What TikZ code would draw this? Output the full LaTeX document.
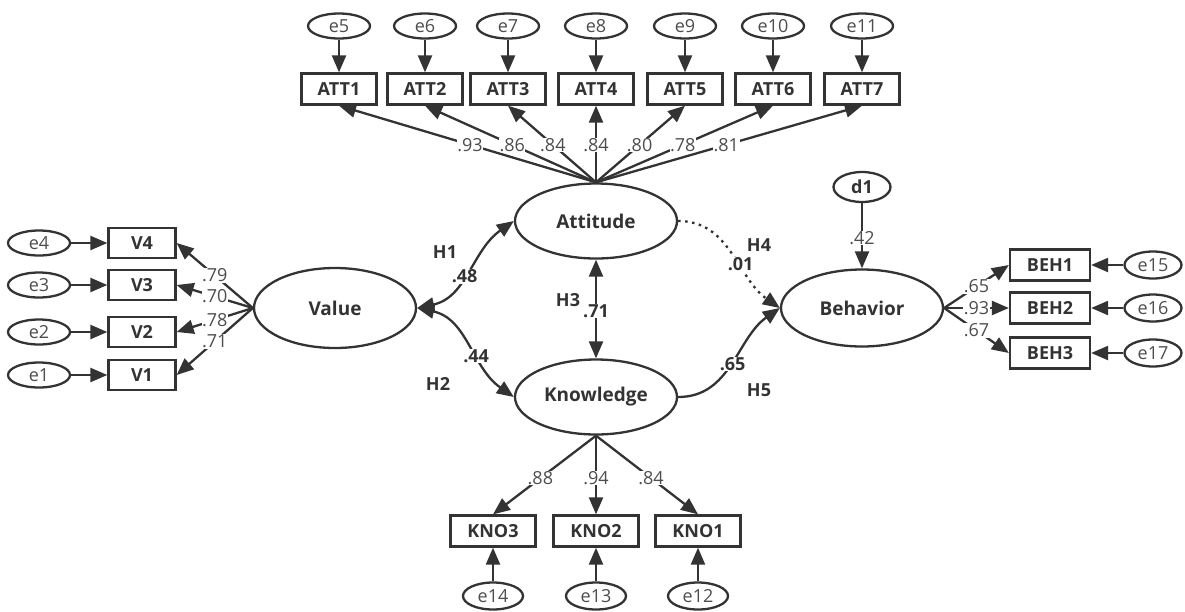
\documentclass[tikz,border=0pt]{standalone}
\usepackage{fontspec}
\setmainfont{Open Sans}
\usetikzlibrary{arrows.meta,shapes.geometric}
\definecolor{ln}{HTML}{333333}
\definecolor{lbl}{HTML}{4D4D4D}
\tikzset{
 obs/.style={draw=ln, line width=2.3pt, rectangle, minimum width=75pt, minimum height=31pt, inner sep=0pt, font=\fontsize{18}{20}\selectfont\bfseries, text=ln},
 err/.style={draw=ln, line width=2.3pt, ellipse, minimum width=62pt, minimum height=25pt, inner sep=0pt, font=\fontsize{18}{20}\selectfont, text=lbl},
 lat/.style={draw=ln, line width=2.3pt, ellipse, minimum width=162pt, minimum height=75pt, inner sep=0pt, font=\fontsize{19}{21}\selectfont\bfseries, text=ln},
 tip/.tip={Triangle[length=17pt,width=14pt]},
 arr/.style={draw=ln, line width=2.3pt, -tip},
 arrb/.style={draw=ln, line width=2.3pt, tip-tip},
 ld/.style={fill=white, inner sep=0.5pt, font=\fontsize{18}{20}\selectfont, text=lbl},
 sl/.style={fill=white, inner sep=0.5pt, font=\fontsize{18}{20}\selectfont\bfseries, text=ln},
 hl/.style={font=\fontsize{18}{20}\selectfont\bfseries, text=ln},
}
\begin{document}
\begin{tikzpicture}[x=1pt,y=-1pt]
\useasboundingbox (0,0) rectangle (1185,611);
% latent
\node[lat] (Att) at (596,221) {Attitude};
\node[lat] (Kno) at (596,397) {Knowledge};
\node[lat,minimum height=80pt] (Val) at (335,308) {Value};
\node[lat,minimum height=77pt] (Beh) at (862,308) {Behavior};
% ATT
\foreach \i/\x/\e in {1/339/5,2/425/6,3/508/7,4/596/8,5/685/9,6/773/10,7/862/11}{
  \node[obs] (ATT\i) at (\x,89) {ATT\i};
  \node[err] (e\e) at (\x,26) {e\e};
  \draw[arr] (e\e) -- (ATT\i);
}
\foreach \i/\v in {1/.93,2/.86,3/.84,4/.84,5/.80,6/.78,7/.81}{
  \draw[arr] (Att.north) -- node[ld,pos=.49]{\v} (ATT\i.south);
}
% V
\foreach \i/\y/\e in {4/243/4,3/285/3,2/332/2,1/375/1}{
  \node[obs,minimum width=67pt,minimum height=30pt] (V\i) at (142,\y) {V\i};
  \node[err] (e\e) at (39,\y) {e\e};
  \draw[arr] (e\e) -- (V\i);
}
\foreach \i/\v in {4/.79,3/.70,2/.78,1/.71}{
  \draw[arr] (Val.west) -- node[ld,pos=.5]{\v} (V\i.east);
}
% BEH
\foreach \i/\y/\e in {1/265/15,2/308/16,3/353/17}{
  \node[obs,minimum width=80pt] (BEH\i) at (1050,\y) {BEH\i};
  \node[err,minimum width=57pt,minimum height=27pt] (e\e) at (1153,\y) {e\e};
  \draw[arr] (e\e) -- (BEH\i);
}
\foreach \i/\v in {1/.65,2/.93,3/.67}{
  \draw[arr] (Beh.east) -- node[ld,pos=.5]{\v} (BEH\i.west);
}
% KNO
\foreach \i/\x/\e in {3/493/14,2/596/13,1/698/12}{
  \node[obs,minimum width=85pt] (KNO\i) at (\x,531) {KNO\i};
  \node[err,minimum width=60pt,minimum height=27pt] (e\e) at (\x,596) {e\e};
  \draw[arr] (e\e) -- (KNO\i);
}
\foreach \i/\v in {3/.88,2/.94,1/.84}{
  \draw[arr] (Kno.south) -- node[ld,pos=.54]{\v} (KNO\i.north);
}
% d1
\node[err,minimum width=57pt,minimum height=30pt,font=\fontsize{18}{20}\selectfont\bfseries,text=ln] (d1) at (862,187) {d1};
\draw[arr] (d1) -- node[ld,pos=.53]{.42} (Beh.north);
% structural
\draw[arrb] (Val.east) to[out=12,in=215] node[sl,pos=.45]{.48} (Att.west);
\draw[arrb] (Val.east) to[out=-12,in=145] node[sl,pos=.6]{.44} (Kno.west);
\draw[arrb] (Att.south) -- node[sl,pos=.52]{.71} (Kno.north);
\draw[arr,dash pattern=on 2.5pt off 4.5pt] (Att.east) to[out=0,in=145] node[sl,pos=.6]{.01} (Beh.west);
\draw[arr] (Kno.east) to[out=0,in=215] node[sl,pos=.5]{.65} (Beh.west);
% hypothesis labels
\node[hl] (H1) at (445,252) {H1};
\node[hl] (H2) at (438,384) {H2};
\node[hl] (H3) at (568,300) {H3};
\node[hl] (H4) at (759,245) {H4};
\node[hl] (H5) at (759,390) {H5};
\end{tikzpicture}
\end{document}
